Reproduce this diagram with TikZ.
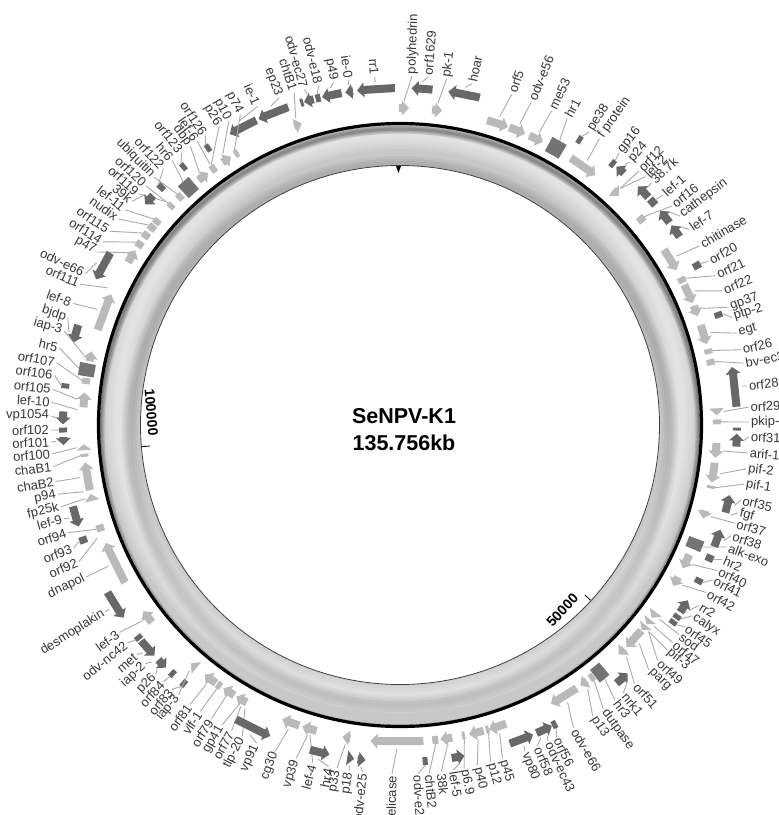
\documentclass[tikz,border=0pt]{standalone}
\usepackage{fontspec}
\setmainfont{Liberation Sans}
\definecolor{lightg}{HTML}{BABABA}
\definecolor{darkg}{HTML}{686868}
\definecolor{hrg}{HTML}{737373}
\definecolor{leadg}{HTML}{ABABAB}
\definecolor{txtg}{HTML}{383838}
\definecolor{ringbase}{HTML}{C8C8C8}
\newcounter{lblc}
\tikzset{
  lbl/.style={font=\fontsize{13}{15}\selectfont, text=txtg, inner sep=0pt},
  lead/.style={draw=leadg, line width=0.9pt},
  tick/.style={draw=black, line width=0.8pt},
  ticklbl/.style={font=\bfseries\fontsize{14}{16}\selectfont, inner sep=0pt, anchor=east},
  title/.style={font=\bfseries\fontsize{21.5}{26}\selectfont, inner sep=0pt}
}
% angle of feature from pixel coords
\newcommand\gang[2]{\pgfmathsetmacro\gTh{atan2(425-(#2),(#1)-400)}}
% arrow: #1 radius, #2 arc length, #3 dir (+1 ccw, -1 cw), #4 colour
\newcommand\shapeArrow[4]{%
  \pgfmathsetmacro\gdA{#2/2/#1*57.29578}%
  \pgfmathsetmacro\ghA{min(7,#2)/#1*57.29578}%
  \pgfmathsetmacro\gaT{\gTh-(#3)*\gdA}%
  \pgfmathsetmacro\gaP{\gTh+(#3)*\gdA}%
  \pgfmathsetmacro\gaB{\gaP-(#3)*\ghA}%
  \pgfmathsetmacro\grA{#1-4}\pgfmathsetmacro\grB{#1+4}%
  \pgfmathsetmacro\grC{#1-7.5}\pgfmathsetmacro\grD{#1+7.5}%
  \fill[#4] (\gaT:\grA) -- (\gaB:\grA) -- (\gaB:\grC) -- (\gaP:#1) -- (\gaB:\grD) -- (\gaB:\grB) -- (\gaT:\grB) -- cycle;}
% rect: #1 radius, #2 tangential length, #3 radial half width, #4 colour
\newcommand\shapeRect[4]{%
  \pgfmathsetmacro\gdA{#2/2/#1*57.29578}%
  \pgfmathsetmacro\gaT{\gTh-\gdA}\pgfmathsetmacro\gaP{\gTh+\gdA}%
  \pgfmathsetmacro\grA{#1-#3}\pgfmathsetmacro\grB{#1+#3}%
  \fill[#4] (\gaT:\grA) -- (\gaP:\grA) -- (\gaP:\grB) -- (\gaT:\grB) -- cycle;}
% label with leader line: #1 lx, #2 ly, #3 text
\newcommand\glab[3]{%
  \stepcounter{lblc}%
  \pgfmathsetmacro\lblang{atan2(425-(#2),(#1)-400)}%
  \draw[lead] (\gTh:\gRs) -- (\lblang:349);
  \pgfmathtruncatemacro\isleft{abs(\lblang)>90 ? 1 : 0}%
  \ifnum\isleft=1
    \pgfmathsetmacro\lblrot{\lblang+180}%
    \node[lbl,anchor=east,rotate=\lblrot] (lbl\arabic{lblc}) at (\lblang:351) {#3};
  \else
    \node[lbl,anchor=west,rotate=\lblang] (lbl\arabic{lblc}) at (\lblang:351) {#3};
  \fi}
\newcommand\GLa[6]{\gang{#1}{#2}\shapeArrow{317}{#3}{-1}{lightg}\def\gRs{324}\glab{#4}{#5}{#6}}
\newcommand\GDa[6]{\gang{#1}{#2}\shapeArrow{337}{#3}{1}{darkg}\def\gRs{344}\glab{#4}{#5}{#6}}
\newcommand\GLb[6]{\gang{#1}{#2}\shapeRect{317}{#3}{4}{lightg}\def\gRs{321}\glab{#4}{#5}{#6}}
\newcommand\GDb[6]{\gang{#1}{#2}\shapeRect{337}{#3}{4}{darkg}\def\gRs{341}\glab{#4}{#5}{#6}}
\newcommand\GHr[6]{\gang{#1}{#2}\shapeRect{318}{#3}{8}{hrg}\def\gRs{326}\glab{#4}{#5}{#6}}
\newcommand\GNl[5]{\gang{#1}{#2}\def\gRs{323}\glab{#3}{#4}{#5}}
\newcommand\GNd[5]{\gang{#1}{#2}\def\gRs{343}\glab{#3}{#4}{#5}}
\newcommand\XDb[3]{\gang{#1}{#2}\shapeRect{337}{#3}{4}{darkg}}
\begin{document}
\begin{tikzpicture}[x=1pt,y=1pt]
\useasboundingbox (-400,-390) rectangle (379,425);
\clip (-400,-390) rectangle (379,425);
\fill[white] (-400,-390) rectangle (379,425);
% ring
\fill[ringbase] (0,0) circle (300);
\begin{scope}
  \clip (0,0) circle (300);
  \foreach \w in {30,24,18,12,7}
    \draw[white, opacity=0.13, line width=\w pt] (0,9) circle (282);
  \foreach \w in {16,11,6}
    \draw[black, opacity=0.045, line width=\w pt] (0,-9) circle (270);
  \foreach \w in {9,6,3}
    \draw[black, opacity=0.14, line width=\w pt] (0,-4) circle (300);
\end{scope}
\fill[white] (0,0) circle (259.5);
\draw[black!75, line width=0.8pt] (0,0) circle (259.5);
\draw[black, line width=3.2pt] (0,0) circle (301.5);
% ticks
\fill[black] (-4,259) -- (1,259) -- (-1.5,252) -- cycle;
\draw[tick] (-42.6:259) -- (-42.6:251);
\draw[tick] (184.8:259) -- (184.8:251);
\node[ticklbl, rotate=47.4] (t50) at (-44.2:245) {50000};
\node[ticklbl, rotate=274.8] (t100) at (182.5:247) {100000};
% title
\node[title] (name) at (4,9) {SeNPV-K1};
\node[title] (size) at (4,-18) {135.756kb};
% genes
\GDa{376}{90}{38}{375}{83}{rr1}
\GDa{349}{91}{8}{350}{87}{ie-0}
\GDa{332}{96}{20}{335}{89}{p49}
\GDb{318}{98}{5}{319}{86}{odv-e18}
\GDa{309}{101}{10}{305}{91}{odv-ec27}
\XDb{302}{103}{3}
\GLa{298}{125}{8}{294}{92}{chtB1}
\GDa{273}{112}{32}{279}{97}{ep23}
\GDa{243}{127}{30}{256}{103}{ie-1}
\GLb{235}{151}{4}{239}{112}{p74}
\GLa{225}{157}{10}{229}{121}{p10}
\GLb{212}{167}{6}{220}{128}{p26}
\GDb{208}{148}{5}{205}{135}{orf126}
\GNl{212}{167}{195}{138}{lef-6}
\GLa{202}{175}{12}{188}{143}{dbp}
\GDb{182}{165}{5}{182}{153}{orf123}
\GHr{188}{187}{14}{170}{158}{hr6}
\GDb{160}{186}{6}{163}{168}{orf122}
\GLb{178}{195}{6}{155}{178}{ubiquitin}
\GLb{170}{205}{5}{145}{185}{orf120}
\GNl{170}{205}{140}{195}{orf119}
\GDa{147}{198}{12}{128}{198}{39k}
\GLb{155}{220}{6}{123}{208}{lef-11}
\GLb{150}{226}{7}{117}{218}{nudix}
\GLb{144}{234}{7}{108}{230}{orf115}
\GLb{139}{244}{7}{100}{240}{orf114}
\GLa{131}{256}{14}{97}{252}{p47}
\GDa{103}{266}{30}{86}{274}{odv-e66}
\GNl{108}{288}{80}{284}{orf111}
\GLa{104}{312}{38}{72}{303}{lef-8}
\GDa{77}{334}{18}{65}{317}{bjdp}
\GLa{89}{356}{10}{61}{330}{iap-3}
\GHr{88}{370}{13}{55}{347}{hr5}
\GLb{86}{381}{6}{53}{362}{orf107}
\GDb{66}{386}{5}{52}{375}{orf106}
\GLa{86}{400}{15}{50}{389}{orf105}
\GNl{84}{410}{48}{402}{lef-10}
\GDa{66}{418}{13}{50}{416}{vp1054}
\GDb{64}{430}{5}{48}{430}{orf102}
\GDa{66}{441}{8}{50}{442}{orf101}
\GLa{87}{447}{6}{50}{454}{orf100}
\GLb{87}{455}{3}{50}{467}{chaB1}
\GLa{90}{476}{28}{53}{482}{chaB2}
\GNl{92}{490}{54}{495}{p94}
\GLa{93}{497}{7}{60}{507}{fp25k}
\GDa{74}{517}{21}{59}{520}{lef-9}
\GLb{103}{527}{7}{67}{533}{orf94}
\GDb{86}{539}{7}{71}{549}{orf93}
\GNl{105}{535}{76}{563}{orf92}
\GLa{117}{562}{44}{84}{578}{dnapol}
\GDa{117}{604}{30}{105}{612}{desmoplakin}
\GLa{150}{615}{14}{120}{632}{lef-3}
\GDb{138}{638}{5}{127}{643}{odv-nc42}
\GDa{148}{648}{20}{133}{658}{met}
\GNd{157}{657}{146}{663}{iap-2}
\GDa{163}{663}{11}{155}{675}{p26}
\GDb{173}{673}{5}{165}{680}{orf84}
\GDb{185}{682}{5}{173}{688}{orf83}
\GLa{196}{663}{7}{180}{693}{iap-3}
\GLa{211}{678}{14}{192}{702}{orf81}
\GLb{220}{684}{5}{200}{712}{vlf-1}
\GLa{230}{690}{13}{212}{718}{orf79}
\GLa{243}{697}{12}{222}{725}{gp41}
\GNl{245}{699}{232}{730}{orf77}
\GNl{249}{701}{243}{735}{tlp-20}
\GDa{255}{724}{38}{257}{742}{vp91}
\GLa{291}{722}{18}{275}{752}{cg30}
\GLa{310}{727}{15}{295}{762}{vp39}
\GNl{312}{728}{311}{770}{lef-4}
\GDa{320}{751}{20}{327}{775}{hr4}
\GLa{347}{734}{8}{337}{768}{p33}
\GDa{351}{756}{7}{349}{773}{p18}
\GDa{362}{756}{8}{362}{778}{odv-e25}
\GLa{397}{738}{53}{392}{774}{helicase}
\GDb{425}{759}{5}{418}{774}{odv-e28}
\GLb{435}{737}{6}{429}{769}{chtB2}
\GLa{446}{736}{12}{441}{769}{38k}
\GDa{458}{756}{13}{453}{768}{lef-5}
\GLb{463}{733}{3}{464}{767}{p6.9}
\GLa{476}{731}{15}{477}{764}{p40}
\GLb{487}{728}{3}{490}{760}{p12}
\GLa{497}{725}{18}{502}{757}{p45}
\GDa{521}{738}{25}{525}{752}{vp80}
\GNd{538}{731}{538}{748}{orf58}
\GDa{543}{727}{17}{549}{743}{odv-ec43}
\GDb{552}{720}{5}{557}{738}{orf56}
\GLa{562}{693}{30}{573}{727}{odv-e66}
\GLa{582}{681}{8}{592}{715}{p13}
\GLb{590}{675}{5}{602}{707}{dutpase}
\GHr{596}{668}{12}{615}{700}{hr3}
\GDa{620}{676}{15}{623}{693}{nrk1}
\GLa{619}{649}{8}{633}{682}{orf51}
\GLa{631}{636}{22}{647}{668}{parg}
\GNl{642}{626}{657}{660}{orf49}
\GLa{642}{626}{6}{665}{648}{pif-3}
\GLa{646}{620}{6}{672}{642}{orf47}
\GLa{651}{613}{7}{677}{633}{sod}
\GDb{670}{620}{5}{682}{625}{orf45}
\GDb{673}{614}{5}{691}{615}{calyx}
\GDa{682}{605}{14}{698}{605}{rr2}
\GLa{673}{580}{10}{707}{593}{orf42}
\GDb{697}{580}{6}{709}{578}{orf41}
\GLa{683}{560}{15}{716}{570}{orf40}
\GDb{707}{557}{7}{721}{559}{hr2}
\GHr{690}{542}{11}{727}{547}{alk-exo}
\GDa{714}{537}{18}{729}{535}{orf38}
\GLa{699}{513}{8}{734}{523}{orf37}
\GNd{720}{512}{738}{513}{fgf}
\GDa{724}{503}{18}{740}{500}{orf35}
\GLb{706}{486}{3}{743}{484}{pif-1}
\GLa{709}{472}{20}{747}{469}{pif-2}
\GLa{711}{450}{15}{747}{453}{arif-1}
\GDa{734}{440}{13}{748}{437}{orf31}
\XDb{734}{429}{3}
\GLb{713}{422}{5}{748}{422}{pkip-1}
\GLa{712}{412}{7}{750}{407}{orf29}
\GDa{733}{387}{40}{747}{386}{orf28}
\GLb{707}{363}{6}{744}{363}{bv-ec31}
\GLb{706}{352}{5}{744}{349}{orf26}
\GLa{702}{335}{20}{737}{333}{egt}
\GDb{718}{315}{6}{734}{317}{ptp-2}
\GLa{693}{312}{11}{729}{307}{gp37}
\GLa{686}{295}{20}{724}{290}{orf22}
\GLb{678}{282}{6}{717}{275}{orf21}
\GDb{696}{266}{7}{707}{262}{orf20}
\GLa{670}{260}{24}{701}{245}{chitinase}
\GDa{677}{230}{14}{688}{230}{lef-7}
\GDa{667}{215}{15}{681}{215}{cathepsin}
\GLb{638}{222}{7}{673}{205}{orf16}
\GDb{655}{200}{8}{663}{195}{lef-1}
\GDa{645}{190}{15}{651}{183}{38.7k}
\GNl{614}{195}{645}{177}{lef-2}
\GLa{614}{195}{8}{640}{170}{orf12}
\GDa{621}{169}{10}{627}{165}{p24}
\GDb{614}{162}{5}{620}{152}{gp16}
\GLa{582}{168}{30}{600}{138}{f protein}
\GDb{580}{139}{5}{590}{131}{pe38}
\GHr{555}{149}{16}{569}{115}{hr1}
\GLa{536}{139}{15}{553}{108}{me53}
\GLa{517}{131}{17}{533}{98}{odv-e56}
\GLa{498}{122}{22}{513}{91}{orf5}
\GDa{464}{95}{32}{473}{79}{hoar}
\GLa{437}{111}{10}{447}{75}{pk-1}
\GDa{422}{90}{21}{428}{76}{orf1629}
\GLa{404}{108}{10}{412}{75}{polyhedrin}
\end{tikzpicture}
\end{document}
